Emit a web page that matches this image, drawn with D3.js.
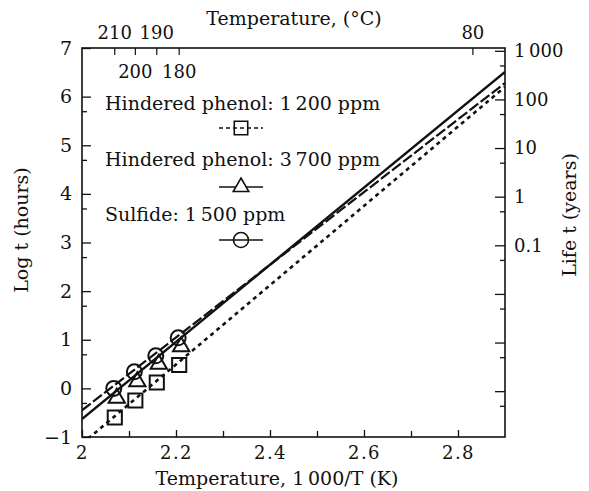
<!DOCTYPE html>
<html>
<head>
<meta charset="utf-8">
<script src="https://cdn.jsdelivr.net/npm/d3@7"></script>
<style>
body { margin: 0; background: #fff; }
text { font-family: "DejaVu Serif", serif; fill: #111; }
</style>
</head>
<body>
<div id="plot-container"></div>
<script>
// oven test temperatures (deg C) of the ageing points
const testTemps = [210, 200, 190, 180];
// log t (hours) at each test temperature
const phenol1200 = [-0.60, -0.25, 0.12, 0.48];
const phenol3700 = [-0.20, 0.14, 0.50, 0.86];
const sulfide1500 = [0.00, 0.34, 0.67, 1.04];

// fitted lines, read at both edges of the plot
const fitX = [2.0, 2.9];
const fit1200 = [-1.14, 6.20];
const fit3700 = [-0.63, 6.51];
const fitSulfide = [-0.45, 6.28];

// axis ticks
const xMajor = [2, 2.2, 2.4, 2.6, 2.8];
const xMinor = [2.1, 2.3, 2.5, 2.7];
const logMajor = [-1, 0, 1, 2, 3, 4, 5, 6, 7];
const logMinor = [-0.3, 0.7, 1.7, 2.7, 3.7, 4.7, 5.7];
const topTemps = [210, 200, 190, 180, 80];
const topBelow = [200, 180];
const lifeMajor = [1000, 100, 10, 1, 0.1, 0.01, 0.001, 0.0001];
const lifeMinor = [500, 50, 5, 0.5, 0.05, 0.005, 0.0005, 0.00005];
const lifeLabels = {1000: "1\u2009000", 100: "100", 10: "10", 1: "1", 0.1: "0.1"};
const hoursPerYear = 8760;

const W = 589, H = 491;
const margin = {left: 82, right: 505, top: 48, bottom: 437};

const svg = d3.select("#plot-container")
  .append("svg")
    .attr("width", W)
    .attr("height", H);

const x = d3.scaleLinear().domain([2, 2.9]).range([margin.left, margin.right]);
const y = d3.scaleLinear().domain([-1, 7]).range([margin.bottom, margin.top]);
const life = d3.scaleLog()
    .domain([Math.pow(10, -1) / hoursPerYear, Math.pow(10, 7) / hoursPerYear])
    .range([margin.bottom, margin.top]);
const invT = t => 1000 / (t + 273.15);

svg.append("defs").append("clipPath").attr("id", "clip")
  .append("rect")
    .attr("x", margin.left).attr("y", margin.top)
    .attr("width", margin.right - margin.left).attr("height", margin.bottom - margin.top);

// bottom axis
svg.append("g")
    .attr("transform", `translate(0,${margin.bottom})`)
    .call(d3.axisBottom(x).tickValues(xMajor).tickSize(-7).tickPadding(9)
      .tickFormat(d => d === 2 ? "2" : d3.format(".1f")(d)))
    .call(g => g.select(".domain").remove())
    .call(g => g.selectAll("text").attr("font-size", 18).attr("letter-spacing", 1.5));
svg.append("g")
    .attr("transform", `translate(0,${margin.bottom})`)
    .call(d3.axisBottom(x).tickValues(xMinor).tickSize(-6).tickFormat(""))
    .call(g => g.select(".domain").remove());

// left axis
svg.append("g")
    .attr("transform", `translate(${margin.left},0)`)
    .call(d3.axisLeft(y).tickValues(logMajor).tickSize(-9).tickPadding(10)
      .tickFormat(d => d < 0 ? "\u2212" + Math.abs(d) : d))
    .call(g => g.select(".domain").remove())
    .call(g => g.selectAll("text").attr("font-size", 19));
svg.append("g")
    .attr("transform", `translate(${margin.left},0)`)
    .call(d3.axisLeft(y).tickValues(logMinor).tickSize(-5).tickFormat(""))
    .call(g => g.select(".domain").remove());

// right axis: life in years
svg.append("g")
    .attr("transform", `translate(${margin.right},0)`)
    .call(d3.axisRight(life).tickValues(lifeMajor).tickSize(-10).tickPadding(9)
      .tickFormat(d => lifeLabels[d] || ""))
    .call(g => g.select(".domain").remove())
    .call(g => g.selectAll("text").attr("font-size", 18));
svg.append("g")
    .attr("transform", `translate(${margin.right},0)`)
    .call(d3.axisRight(life).tickValues(lifeMinor).tickSize(-5).tickFormat(""))
    .call(g => g.select(".domain").remove());

// top axis: temperature in deg C
const topAxis = svg.append("g");
topAxis.selectAll("line")
  .data(topTemps)
  .enter()
  .append("line")
    .attr("x1", d => x(invT(d))).attr("x2", d => x(invT(d)))
    .attr("y1", margin.top).attr("y2", margin.top + 7)
    .attr("stroke", "#111").attr("stroke-width", 1.2);
topAxis.selectAll("text")
  .data(topTemps)
  .enter()
  .append("text")
    .attr("x", d => x(invT(d)))
    .attr("y", d => topBelow.includes(d) ? margin.top + 30 : margin.top - 9)
    .attr("text-anchor", "middle")
    .attr("font-size", 18)
    .text(d => d);

svg.selectAll(".tick line").attr("stroke", "#111").attr("stroke-width", 1.3);

// frame
svg.append("rect")
    .attr("x", margin.left).attr("y", margin.top)
    .attr("width", margin.right - margin.left).attr("height", margin.bottom - margin.top)
    .attr("fill", "none").attr("stroke", "#111").attr("stroke-width", 1.6);

// fitted lines
const line = d3.line().x(d => x(d[0])).y(d => y(d[1]));
const fits = [
  {vals: fit1200, dash: "4,4", w: 2.6},
  {vals: fitSulfide, dash: "11,3", w: 2.2},
  {vals: fit3700, dash: null, w: 2.4}
];
svg.append("g").attr("clip-path", "url(#clip)")
  .selectAll("path")
  .data(fits)
  .enter()
  .append("path")
    .attr("d", d => line(fitX.map((v, i) => [v, d.vals[i]])))
    .attr("fill", "none")
    .attr("stroke", "#111")
    .attr("stroke-width", d => d.w)
    .attr("stroke-dasharray", d => d.dash);

// data points
const pts = svg.append("g")
    .attr("fill", "none").attr("stroke", "#111").attr("stroke-width", 2);
pts.selectAll(".sq")
  .data(phenol1200)
  .enter()
  .append("path")
    .attr("transform", (d, i) => `translate(${x(invT(testTemps[i]))},${y(d)})`)
    .attr("d", d3.symbol(d3.symbolSquare, 200));
pts.selectAll(".tri")
  .data(phenol3700)
  .enter()
  .append("path")
    .attr("transform", (d, i) => `translate(${x(invT(testTemps[i])) + 2},${y(d)})`)
    .attr("d", d3.symbol(d3.symbolTriangle, 115));
pts.selectAll(".circ")
  .data(sulfide1500)
  .enter()
  .append("circle")
    .attr("cx", (d, i) => x(invT(testTemps[i])) - 1)
    .attr("cy", d => y(d))
    .attr("r", 7.5);

// legend
const legend = [
  {label: "Hindered phenol: 1\u2009200 ppm", ty: 110, sy: 128, sym: "square", dash: "4,3"},
  {label: "Hindered phenol: 3\u2009700 ppm", ty: 166, sy: 187, sym: "triangle", dash: null},
  {label: "Sulfide: 1\u2009500 ppm", ty: 221, sy: 240, sym: "circle", dash: null}
];
const lg = svg.append("g");
legend.forEach(item => {
  lg.append("text")
      .attr("x", 105).attr("y", item.ty)
      .attr("font-size", 19)
      .text(item.label);
  lg.append("line")
      .attr("x1", 219).attr("x2", 263)
      .attr("y1", item.sy).attr("y2", item.sy)
      .attr("stroke", "#111").attr("stroke-width", 1.4)
      .attr("stroke-dasharray", item.dash);
  if (item.sym === "circle") {
    lg.append("circle").attr("cx", 241).attr("cy", item.sy).attr("r", 7.5)
        .attr("fill", "none").attr("stroke", "#111").attr("stroke-width", 1.6);
  } else {
    const s = item.sym === "square" ? d3.symbol(d3.symbolSquare, 180) : d3.symbol(d3.symbolTriangle, 105);
    lg.append("path")
        .attr("transform", `translate(241,${item.sy})`)
        .attr("d", s)
        .attr("fill", item.sym === "square" ? "none" : "#fff")
        .attr("stroke", "#111").attr("stroke-width", 1.6);
  }
});

// axis titles
svg.append("text")
    .attr("x", 294).attr("y", 25)
    .attr("text-anchor", "middle").attr("font-size", 19)
    .text("Temperature, (\u00b0C)");
svg.append("text")
    .attr("x", 277).attr("y", 485)
    .attr("text-anchor", "middle").attr("font-size", 19)
    .text("Temperature, 1\u2009000/T (K)");
svg.append("text")
    .attr("transform", "rotate(-90)")
    .attr("x", -230).attr("y", 28)
    .attr("text-anchor", "middle").attr("font-size", 19)
    .text("Log t (hours)");
svg.append("text")
    .attr("transform", "rotate(-90)")
    .attr("x", -215).attr("y", 576)
    .attr("text-anchor", "middle").attr("font-size", 19)
    .text("Life t (years)");
</script>
</body>
</html>
